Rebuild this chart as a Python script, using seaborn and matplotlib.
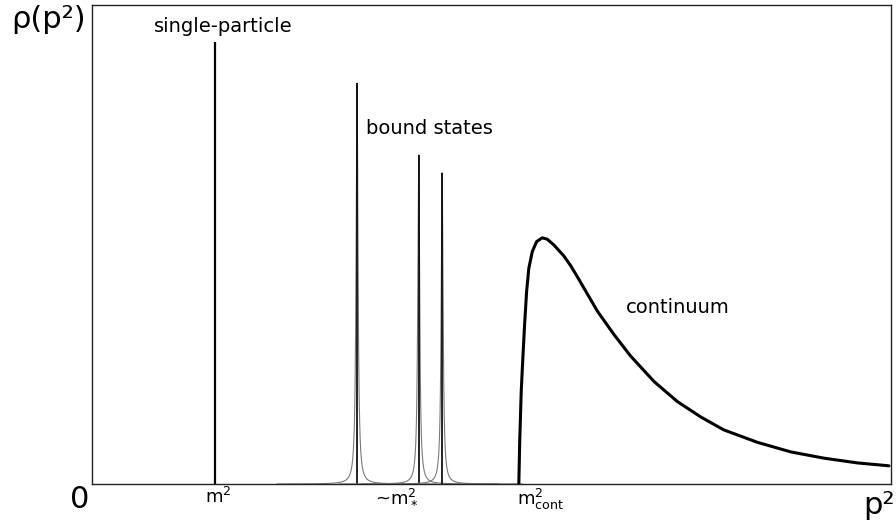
import numpy as np
import pandas as pd
import matplotlib
matplotlib.use("Agg")
import matplotlib.pyplot as plt
import seaborn as sns

# ---- data ----
single_x = 1.541
single_h = 0.923

bound_x = [3.317, 4.089, 4.382]
bound_h = [0.837, 0.687, 0.650]
bound_w = [0.014, 0.014, 0.014]

cont_x = [5.342, 5.353, 5.372, 5.392, 5.414, 5.439, 5.467, 5.510, 5.564, 5.635,
          5.698, 5.781, 5.906, 5.990, 6.070, 6.157, 6.325, 6.533, 6.742, 7.034,
          7.327, 7.619, 7.907, 8.329, 8.747, 9.160, 9.582, 9.975]
cont_y = [0.0, 0.088, 0.193, 0.262, 0.332, 0.401, 0.450, 0.485, 0.506, 0.514,
          0.511, 0.499, 0.476, 0.456, 0.434, 0.409, 0.361, 0.312, 0.267, 0.214,
          0.172, 0.140, 0.113, 0.087, 0.067, 0.054, 0.044, 0.038]

tick_pos = [1.58, 3.81, 5.61]
tick_labels = [r"$\mathregular{m^2}$", r"~$\mathregular{m^2_*}$", r"$\mathregular{m^2_{cont}}$"]

labels = ["single-particle", "bound states", "continuum"]

sns.set_theme(style="white")
plt.rcParams["font.family"] = ["DejaVu Sans"]
plt.rcParams["mathtext.fontset"] = "dejavusans"
plt.rcParams["text.color"] = "black"
plt.rcParams["xtick.color"] = "black"

fig = plt.figure(figsize=(8.96, 5.32), dpi=100)
ax = fig.add_axes([0.1027, 0.0902, 0.8917, 0.9004])

# bound-state peaks (Lorentzian shapes around read centres)
for c, h, w in zip(bound_x, bound_h, bound_w):
    xs = np.linspace(c - 1.0, c + 1.0, 4001)
    ys = h * w**2 / ((xs - c) ** 2 + w**2)
    df = pd.DataFrame({"x": xs, "y": ys})
    sns.lineplot(data=df, x="x", y="y", ax=ax, color="#7a7a7a", lw=0.8, sort=False)
    ax.vlines(c, 0, h, color="black", lw=1.2)

# single particle
ax.vlines(single_x, 0, single_h, color="black", lw=1.6)

# continuum
sns.lineplot(x=cont_x, y=cont_y, ax=ax, color="black", lw=2.2, sort=False)

ax.set_xlim(0, 10)
ax.set_ylim(0, 1)
ax.set_xticks(tick_pos)
ax.set_xticklabels(tick_labels, fontsize=13)
ax.tick_params(axis="x", length=0, pad=2, colors="black")
ax.set_yticks([])
ax.set_xlabel("")
ax.set_ylabel("")
for s in ax.spines.values():
    s.set_color("#222222")
    s.set_linewidth(1.0)

ax.text(1.64, 0.955, labels[0], fontsize=14, ha="center", va="center")
ax.text(3.43, 0.742, labels[1], fontsize=14, ha="left", va="center")
ax.text(6.68, 0.368, labels[2], fontsize=14, ha="left", va="center")

fig.text(11 / 896, 1 - 20 / 532, "ρ(p²)", fontsize=22, ha="left", va="center")
fig.text(80 / 896, 1 - 500 / 532, "0", fontsize=22, ha="center", va="center")
fig.text(895 / 896, 1 - 505 / 532, "p²", fontsize=22, ha="right", va="center")

fig.savefig("out.png", dpi=100)
